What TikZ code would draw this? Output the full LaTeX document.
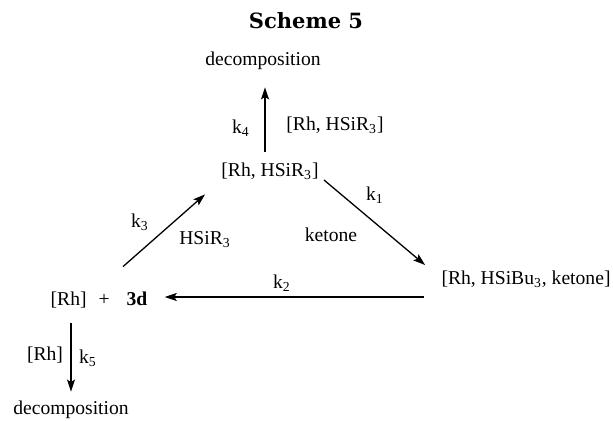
\documentclass[tikz,border=0pt]{standalone}
\usepackage{fontspec}
\setmainfont{Liberation Serif}
\newfontfamily\titlefont{DejaVu Serif}
\usetikzlibrary{arrows.meta}
\tikzset{
  txt/.style={font=\fontsize{9.8}{12}\selectfont, inner sep=0pt},
  spc/.style={txt, text height=7pt, text depth=2pt},
  arr/.style={line width=0.65pt, -{Stealth[length=6pt,width=4pt,inset=1.2pt]}},
}
\begin{document}
\begin{tikzpicture}[x=0.5pt,y=-0.5pt]
\useasboundingbox (0,0) rectangle (613,421);
% title
\node[inner sep=0pt, font=\titlefont\bfseries\fontsize{10.5}{12}\selectfont] (title) at (306,21) {Scheme 5};
% species
\node[spc] (dectop) at (263,61) {decomposition};
\node[spc] (mid) at (270,172) {[Rh, HSiR\textsubscript{3}]};
\node[spc] (right) at (526,280) {[Rh, HSiBu\textsubscript{3}, ketone]};
\node[spc] (left) at (99,300) {[Rh]\hspace{6pt}+\hspace{8.5pt}\textbf{3d}};
\node[spc] (decbot) at (71,409) {decomposition};
% labels
\node[txt] (k4) at (241,128) {k\textsubscript{4}};
\node[txt] (l4) at (335,125) {[Rh, HSiR\textsubscript{3}]};
\node[txt] (k1) at (375,195) {k\textsubscript{1}};
\node[txt] (ket) at (331,235) {ketone};
\node[txt] (k3) at (140,222) {k\textsubscript{3}};
\node[txt] (l3) at (205,240) {HSiR\textsubscript{3}};
\node[txt] (k2) at (282,283) {k\textsubscript{2}};
\node[txt] (l5) at (45,355) {[Rh]};
\node[txt] (k5) at (88,358) {k\textsubscript{5}};
% connectors
\draw[arr] ([shift={(-5,-11)}]mid.north) -- ([shift={(2,17)}]dectop.south);
\draw[arr] ([shift={(5,8)}]mid.east) -- ([shift={(-16,-15)}]right.west);
\draw[arr] ([shift={(-17,17)}]right.west) -- ([shift={(17,-3)}]left.east);
\draw[arr] ([shift={(24,-24)}]left.north) -- ([shift={(-16,13)}]mid.south west);
\draw[arr] ([shift={(-28,14)}]left.south) -- ([shift={(0,-8)}]decbot.north);
\end{tikzpicture}
\end{document}
